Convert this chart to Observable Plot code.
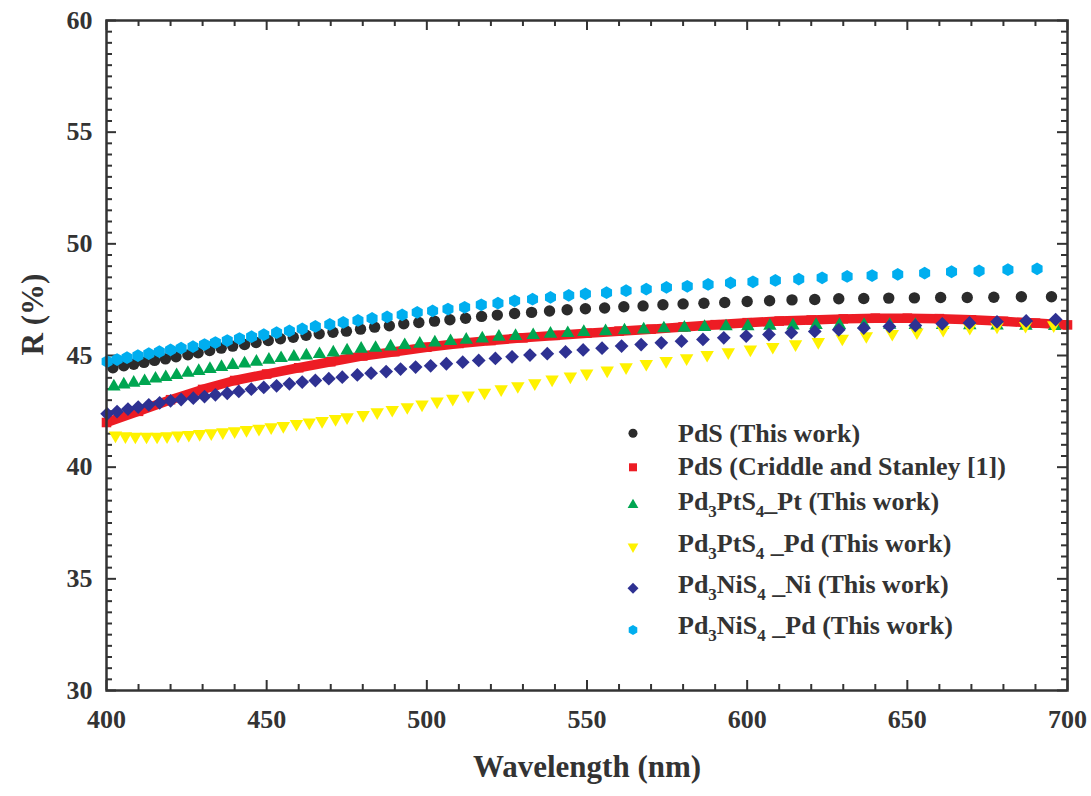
<!DOCTYPE html>
<html><head><meta charset="utf-8">
<script src="https://cdn.jsdelivr.net/npm/d3@7"></script>
<script src="https://cdn.jsdelivr.net/npm/@observablehq/plot@0.6"></script>
<style>
html,body{margin:0;padding:0;background:#fff;}
#chart{position:relative;width:1091px;height:796px;}
</style></head><body><div id="chart"></div>
<script>
// ---- axis ticks / labels ----
const xTicks = [400, 450, 500, 550, 600, 650, 700];
const yTicks = [30, 35, 40, 45, 50, 55, 60];
const xTitle = "Wavelength (nm)";
const yTitle = "R (%)";

// ---- series: PdS (This work) ----
const pdsWl = [402.0,405.4,408.5,411.7,415.0,418.4,421.7,425.4,428.6,432.2,435.8,439.4,443.1,446.7,450.5,454.3,458.3,462.3,466.4,470.7,474.9,479.3,483.7,488.3,492.8,497.5,502.4,507.2,512.1,517.1,522.0,527.4,532.7,538.3,543.8,549.5,555.5,561.5,567.5,573.7,580.0,586.5,593.0,600.0,607.0,614.0,621.1,628.6,636.4,644.2,652.2,660.4,668.7,677.0,685.6,695.0];
const pdsR  = [44.45,44.54,44.61,44.69,44.78,44.85,44.94,45.03,45.12,45.22,45.33,45.42,45.49,45.58,45.67,45.75,45.82,45.91,45.97,46.04,46.09,46.18,46.27,46.33,46.42,46.48,46.54,46.60,46.67,46.75,46.81,46.88,46.93,46.99,47.05,47.09,47.13,47.18,47.22,47.27,47.31,47.34,47.37,47.42,47.45,47.49,47.51,47.54,47.55,47.57,47.58,47.60,47.60,47.61,47.63,47.63];

// ---- series: PdS (Criddle and Stanley [1]) ----
const csWl = [400,410,420,430,440,450,460,470,480,490,500,510,520,530,540,550,560,570,580,590,600,610,620,630,640,650,660,670,680,690,700];
const csR  = [42.00,42.50,43.02,43.48,43.88,44.17,44.45,44.72,44.98,45.17,45.37,45.54,45.67,45.79,45.90,46.00,46.09,46.18,46.28,46.38,46.47,46.54,46.59,46.64,46.67,46.67,46.65,46.60,46.53,46.45,46.37];

// ---- series: Pd3PtS4_Pt ----
const ptPtWl = [402.3,405.4,408.5,411.9,415.3,418.5,421.9,425.4,428.8,432.3,435.9,439.4,443.1,446.8,450.7,454.5,458.5,462.4,466.5,470.8,475.1,479.5,484.0,488.7,493.1,497.8,502.5,507.4,512.3,517.3,522.5,527.7,533.2,538.6,544.0,549.0,555.8,561.7,567.7,574.0,580.4,586.7,593.4,600.2,607.1,614.3,621.5,628.8,636.5,644.5,652.5,661.0,669.5,678.0,687.0,696.0];
const ptPtR  = [43.61,43.70,43.78,43.85,43.96,44.03,44.12,44.22,44.30,44.39,44.48,44.57,44.64,44.72,44.81,44.88,44.94,45.00,45.06,45.13,45.22,45.30,45.34,45.40,45.46,45.52,45.58,45.64,45.70,45.76,45.84,45.87,45.91,45.97,46.00,46.05,46.08,46.12,46.16,46.21,46.24,46.27,46.30,46.31,46.33,46.34,46.36,46.36,46.37,46.37,46.36,46.36,46.35,46.34,46.33,46.32];

// ---- series: Pd3PtS4_Pd ----
const ptPdWl = [402.8,405.9,409.0,412.5,415.8,418.9,422.3,425.7,429.1,432.7,436.3,440.0,443.7,447.6,451.4,455.2,459.3,463.3,467.3,471.5,475.1,480.1,484.5,489.2,493.9,498.5,503.2,508.1,512.9,518.0,523.2,528.4,533.7,539.1,544.8,549.9,556.3,562.2,568.5,574.7,581.1,587.5,594.1,601.0,608.0,615.1,622.2,629.7,637.2,645.3,653.0,661.2,669.5,678.0,686.9,695.7];
const ptPdR  = [41.42,41.39,41.37,41.37,41.37,41.39,41.42,41.45,41.49,41.52,41.57,41.61,41.67,41.72,41.79,41.85,41.94,42.00,42.07,42.16,42.24,42.34,42.46,42.57,42.69,42.81,42.94,43.07,43.21,43.34,43.49,43.63,43.76,43.93,44.06,44.20,44.33,44.48,44.63,44.76,44.88,45.03,45.15,45.27,45.39,45.51,45.61,45.76,45.87,45.97,46.04,46.15,46.24,46.30,46.33,46.36];

// ---- series: Pd3NiS4_Ni ----
const niNiWl = [400.2,403.3,406.7,409.9,413.2,416.6,420.0,423.3,427.1,430.6,434.0,437.7,441.3,445.2,449.1,453.1,457.1,461.1,465.2,469.4,473.6,478.3,482.6,487.3,491.8,496.5,501.2,506.1,511.2,516.2,521.4,526.6,532.2,537.6,543.3,548.8,554.7,560.8,566.9,573.2,579.5,586.2,592.7,599.7,606.8,613.8,621.1,628.6,636.4,644.4,652.5,660.9,669.4,678.0,687.1,696.3];
const niNiR  = [42.39,42.49,42.60,42.69,42.79,42.88,42.97,43.03,43.09,43.16,43.24,43.31,43.39,43.49,43.57,43.64,43.73,43.81,43.88,43.96,44.03,44.13,44.21,44.28,44.39,44.48,44.54,44.63,44.70,44.78,44.87,44.94,45.02,45.08,45.16,45.25,45.33,45.42,45.49,45.57,45.64,45.72,45.79,45.87,45.94,46.02,46.08,46.15,46.23,46.30,46.34,46.42,46.46,46.51,46.55,46.61];

// ---- series: Pd3NiS4_Pd ----
const niPdWl = [400.2,403.3,406.4,409.8,413.2,416.5,420.0,423.3,427.0,430.6,434.0,437.7,441.5,445.3,449.1,453.1,457.1,461.1,465.2,469.7,473.9,478.5,482.9,487.6,492.3,497.0,501.8,506.6,511.8,517.0,522.2,527.4,533.0,538.6,544.3,549.5,556.1,562.2,568.5,574.8,581.3,587.8,594.8,601.8,608.8,616.1,623.4,631.2,639.0,647.0,655.4,663.8,672.4,681.4,690.5];
const niPdR  = [44.73,44.82,44.90,44.99,45.08,45.17,45.25,45.33,45.40,45.49,45.58,45.67,45.76,45.84,45.93,46.02,46.10,46.19,46.30,46.39,46.48,46.57,46.66,46.73,46.82,46.93,47.00,47.08,47.16,47.27,47.34,47.45,47.52,47.60,47.69,47.76,47.81,47.90,47.97,48.05,48.10,48.18,48.25,48.30,48.36,48.42,48.48,48.54,48.58,48.63,48.69,48.75,48.79,48.84,48.88];

const seriesLabels = [
  [["PdS (This work)", 0]],
  [["PdS (Criddle and Stanley [1])", 0]],
  [["Pd", 0], ["3", 1], ["PtS", 0], ["4", 1], ["_Pt (This work)", 0]],
  [["Pd", 0], ["3", 1], ["PtS", 0], ["4", 1], [" _Pd (This work)", 0]],
  [["Pd", 0], ["3", 1], ["NiS", 0], ["4", 1], [" _Ni (This work)", 0]],
  [["Pd", 0], ["3", 1], ["NiS", 0], ["4", 1], [" _Pd (This work)", 0]]
];
const seriesColors = ["#2b2b2b", "#ed1c24", "#00a651", "#fff200", "#2e3192", "#00aeef"];

// ---- custom symbols ----
const triUp = {draw(c, s) { const a = Math.sqrt(4 * s / Math.sqrt(3)), h = a * Math.sqrt(3) / 2;
  c.moveTo(0, -2 * h / 3); c.lineTo(a / 2, h / 3); c.lineTo(-a / 2, h / 3); c.closePath(); }};
const triDown = {draw(c, s) { const a = Math.sqrt(4 * s / Math.sqrt(3)), h = a * Math.sqrt(3) / 2;
  c.moveTo(0, 2 * h / 3); c.lineTo(a / 2, -h / 3); c.lineTo(-a / 2, -h / 3); c.closePath(); }};
const rhomb = {draw(c, s) { const d = Math.sqrt(s / 2);
  c.moveTo(0, -d); c.lineTo(d, 0); c.lineTo(0, d); c.lineTo(-d, 0); c.closePath(); }};
const hexa = {draw(c, s) { const R = Math.sqrt(s / (3 * Math.sqrt(3) / 2));
  for (let k = 0; k < 6; k++) { const t = (-90 + 60 * k) * Math.PI / 180;
    const px = R * Math.cos(t), py = R * Math.sin(t); if (k === 0) c.moveTo(px, py); else c.lineTo(px, py); }
  c.closePath(); }};
const sq = {draw(c, s) { const h = Math.sqrt(s) / 2; c.rect(-h, -h, 2 * h, 2 * h); }};

const rows = (wl, r) => wl.map((w, i) => ({wl: w, r: r[i]}));
const dPdS = rows(pdsWl, pdsR), dCS = rows(csWl, csR), dPtPt = rows(ptPtWl, ptPtR),
      dPtPd = rows(ptPdWl, ptPdR), dNiNi = rows(niNiWl, niNiR), dNiPd = rows(niPdWl, niPdR);

const W = 1091, H = 796, mL = 106, mR = 24, mT = 20, mB = 106;
const fw = W - mL - mR, fh = H - mT - mB;
const minorX = d3.range(400, 701, 10).filter(v => v % 50 !== 0);
const minorY = d3.range(30, 60.001, 0.5).filter(v => Math.abs(v % 5) > 1e-9);
const axisCol = "#333";
const serif = "'Liberation Serif','Times New Roman',serif";

const plot = Plot.plot({
  width: W, height: H, marginLeft: mL, marginRight: mR, marginTop: mT, marginBottom: mB,
  x: {domain: [400, 700]}, y: {domain: [30, 60]},
  style: {fontFamily: serif, fontWeight: "bold", fontSize: "26px", color: axisCol, background: "#fff"},
  marks: [
    Plot.axisX(xTicks, {anchor: "bottom", tickSize: 0, tickPadding: 19, label: null}),
    Plot.axisY(yTicks, {anchor: "left", tickSize: 0, tickPadding: 14, label: null}),
    Plot.text([xTitle], {frameAnchor: "bottom", dy: 86, fontSize: 31, fontWeight: "bold", fill: axisCol}),
    Plot.text([yTitle], {frameAnchor: "left", dx: -73, rotate: -90, fontSize: 31, fontWeight: "bold", fill: axisCol}),
    // inward ticks
    Plot.tickX(xTicks, {x: d => d, insetTop: fh - 10, stroke: axisCol, strokeWidth: 2}),
    Plot.tickX(minorX, {x: d => d, insetTop: fh - 6, stroke: axisCol, strokeWidth: 2}),
    Plot.tickX(xTicks, {x: d => d, insetBottom: fh - 10, stroke: axisCol, strokeWidth: 2}),
    Plot.tickX(minorX, {x: d => d, insetBottom: fh - 6, stroke: axisCol, strokeWidth: 2}),
    Plot.tickY(yTicks, {y: d => d, insetRight: fw - 10, stroke: axisCol, strokeWidth: 2}),
    Plot.tickY(minorY, {y: d => d, insetRight: fw - 6, stroke: axisCol, strokeWidth: 2}),
    Plot.tickY(yTicks, {y: d => d, insetLeft: fw - 10, stroke: axisCol, strokeWidth: 2}),
    Plot.tickY(minorY, {y: d => d, insetLeft: fw - 6, stroke: axisCol, strokeWidth: 2}),
    // series
    Plot.dot(dPdS, {x: "wl", y: "r", symbol: "circle", r: 5.7, fill: seriesColors[0]}),
    Plot.line(dCS, {x: "wl", y: "r", stroke: seriesColors[1], strokeWidth: 9.5, strokeLinecap: "butt"}),
    Plot.dot(dCS, {x: "wl", y: "r", symbol: sq, r: 5.4, fill: seriesColors[1]}),
    Plot.dot(dPtPt, {x: "wl", y: "r", symbol: triUp, r: 5, fill: seriesColors[2]}),
    Plot.dot(dPtPd, {x: "wl", y: "r", symbol: triDown, r: 5, fill: seriesColors[3]}),
    Plot.dot(dNiNi, {x: "wl", y: "r", symbol: rhomb, r: 5.5, fill: seriesColors[4]}),
    Plot.dot(dNiPd, {x: "wl", y: "r", symbol: hexa, r: 5.8, fill: seriesColors[5]}),
    Plot.frame({stroke: axisCol, strokeWidth: 2.5})
  ]
});
document.getElementById("chart").appendChild(plot);

// ---- legend (inside plot area) ----
const svg = d3.select(plot);
const lg = svg.append("g").attr("font-family", serif).attr("font-weight", "bold")
  .attr("fill", axisCol).attr("text-anchor", "start");
const legSyms = [d3.symbolCircle, sq, triUp, triDown, rhomb, hexa];
const legSizes = [64, 64, 50, 50, 60, 64];
const markerY = [433.3, 467.3, 505, 546.7, 588.3, 630];
const baseY = [441.7, 475, 510, 551.7, 592.7, 634];
seriesLabels.forEach((parts, i) => {
  lg.append("path").attr("transform", `translate(633,${markerY[i]})`)
    .attr("d", d3.symbol(legSyms[i], legSizes[i])()).attr("fill", seriesColors[i]);
  const t = lg.append("text").attr("x", 678).attr("y", baseY[i]).attr("font-size", 26)
    .attr("text-anchor", "start").style("white-space", "pre");
  let sub = false;
  parts.forEach(([s, isSub]) => {
    const ts = t.append("tspan").text(s);
    if (isSub && !sub) { ts.attr("dy", 7).attr("font-size", 17); sub = true; }
    else if (isSub) { ts.attr("font-size", 17); }
    else if (!isSub && sub) { ts.attr("dy", -7); sub = false; }
  });
});
</script></body></html>
